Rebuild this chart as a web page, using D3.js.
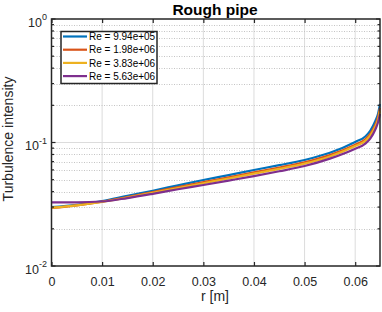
<!DOCTYPE html>
<html><head><meta charset="utf-8">
<script src="https://cdn.jsdelivr.net/npm/d3@7"></script>
<style>body{margin:0;background:#fff}svg{display:block;font-family:"Liberation Sans",Arial,sans-serif}</style>
</head><body><svg id="c" width="382" height="312"></svg>
<script>
const rVals = [0, 0.005, 0.01, 0.015, 0.02, 0.025, 0.03, 0.035, 0.04, 0.045, 0.05, 0.055, 0.06, 0.062, 0.063, 0.064, 0.0645, 0.0649];
const seriesNames = ["Re = 9.94e+05", "Re = 1.98e+06", "Re = 3.83e+06", "Re = 5.63e+06"];
const re994e05 = [0.0300, 0.0313, 0.0335, 0.0370, 0.0407, 0.0450, 0.0497, 0.0545, 0.0599, 0.0655, 0.0722, 0.0825, 0.1010, 0.112, 0.125, 0.150, 0.170, 0.205];
const re198e06 = [0.0295, 0.0310, 0.0332, 0.0362, 0.0396, 0.0436, 0.0478, 0.0523, 0.0573, 0.0627, 0.0692, 0.0790, 0.0960, 0.106, 0.118, 0.140, 0.160, 0.190];
const re383e06 = [0.0297, 0.0310, 0.0330, 0.0358, 0.0391, 0.0428, 0.0468, 0.0511, 0.0560, 0.0611, 0.0674, 0.0770, 0.0935, 0.103, 0.114, 0.135, 0.153, 0.180];
const re563e06 = [0.0328, 0.0328, 0.0333, 0.0355, 0.0384, 0.0418, 0.0453, 0.0492, 0.0535, 0.0585, 0.0645, 0.0740, 0.0890, 0.098, 0.108, 0.128, 0.145, 0.170];
const colors = ["#0072BD", "#D95319", "#EDB120", "#7E2F8E"];
const xTicks = [0, 0.01, 0.02, 0.03, 0.04, 0.05, 0.06];
const xTickLabels = ["0", "0.01", "0.02", "0.03", "0.04", "0.05", "0.06"];
const yTicks = [1e-2, 1e-1, 1];
const yTickExps = ["-2", "-1", "0"];

const allSeries = [re994e05, re198e06, re383e06, re563e06];
const svg = d3.select("#c");
const L = 51.5, R = 380, T = 19, B = 266;
const x = d3.scaleLinear().domain([0, 0.0649]).range([L, R]);
const y = d3.scaleLog().domain([1e-2, 1]).range([B, T]);

const minor = [];
for (let e = -2; e < 0; e++) for (let m = 2; m <= 9; m++) minor.push(m * Math.pow(10, e));

const g = svg.append("g");
g.selectAll(".vg").data(xTicks.slice(1)).enter().append("line")
  .attr("x1", d => x(d)).attr("x2", d => x(d)).attr("y1", T).attr("y2", B)
  .attr("stroke", "#dcdcdc").attr("stroke-width", 1);
g.selectAll(".hg").data([1e-1]).enter().append("line")
  .attr("x1", L).attr("x2", R).attr("y1", d => y(d)).attr("y2", d => y(d))
  .attr("stroke", "#dcdcdc").attr("stroke-width", 1);
g.selectAll(".mg").data(minor).enter().append("line")
  .attr("x1", L).attr("x2", R).attr("y1", d => Math.round(y(d)) + 0.5).attr("y2", d => Math.round(y(d)) + 0.5)
  .attr("stroke", "#c4c4c4").attr("stroke-width", 1).attr("stroke-dasharray", "1,1.5");

const line = d3.line().x((d, i) => x(rVals[i])).y(d => y(d)).curve(d3.curveMonotoneX);
allSeries.forEach((s, i) => {
  svg.append("path").datum(s).attr("d", line).attr("fill", "none")
    .attr("stroke", colors[i]).attr("stroke-width", 2.2).attr("stroke-linejoin", "round");
});

const ax = svg.append("g");
const axColor = "#262626";
ax.append("rect").attr("x", L).attr("y", T).attr("width", R - L).attr("height", B - T)
  .attr("fill", "none").attr("stroke", axColor).attr("stroke-width", 1.5);
const xAxis = d3.axisBottom(x).tickValues(xTicks).tickFormat((d, i) => xTickLabels[i]).tickSizeInner(-4).tickSizeOuter(0).tickPadding(11);
const xa = ax.append("g").attr("transform", `translate(0,${B})`).call(xAxis);
xa.select(".domain").remove();
xa.selectAll("line").attr("stroke", axColor).attr("stroke-width", 1.2);
xa.selectAll("text").attr("fill", axColor).attr("font-size", 12.5).attr("font-family", "Liberation Sans, Arial, sans-serif");
const xTop = d3.axisTop(x).tickValues(xTicks).tickFormat("").tickSizeInner(-4).tickSizeOuter(0);
const xt = ax.append("g").attr("transform", `translate(0,${T})`).call(xTop);
xt.select(".domain").remove();
xt.selectAll("line").attr("stroke", axColor).attr("stroke-width", 1.2);

[["left", L, 1], ["right", R, -1]].forEach(([side, px, dir]) => {
  ax.selectAll(".mt" + side).data(minor.concat(yTicks)).enter().append("line")
    .attr("x1", px).attr("x2", d => px + dir * (yTicks.includes(d) ? 4 : 2.5))
    .attr("y1", d => y(d)).attr("y2", d => y(d)).attr("stroke", axColor).attr("stroke-width", 1.2);
});
const yl = ax.selectAll(".yl").data(yTicks).enter().append("text")
  .attr("x", L - 4.5).attr("y", d => y(d) + 7.5).attr("text-anchor", "end")
  .attr("font-size", 12.5).attr("fill", axColor).text("10");
yl.append("tspan").attr("dy", -6.5).attr("font-size", 9).text((d, i) => yTickExps[i]);

svg.append("text").attr("x", 215).attr("y", 15).attr("text-anchor", "middle")
  .attr("font-size", 15.5).attr("font-weight", "bold").attr("fill", "#000").text("Rough pipe");
svg.append("text").attr("x", 215).attr("y", 301).attr("text-anchor", "middle")
  .attr("font-size", 14).attr("fill", axColor).text("r [m]");
svg.append("text").attr("transform", `translate(13,139) rotate(-90)`).attr("text-anchor", "middle")
  .attr("font-size", 14).attr("fill", axColor).text("Turbulence intensity");

const lg = svg.append("g");
lg.append("rect").attr("x", 61).attr("y", 31.5).attr("width", 96).attr("height", 52)
  .attr("fill", "#fff").attr("stroke", axColor).attr("stroke-width", 1.5);
seriesNames.forEach((n, i) => {
  const yy = 36.5 + i * 13.2;
  lg.append("line").attr("x1", 63).attr("x2", 87).attr("y1", yy).attr("y2", yy)
    .attr("stroke", colors[i]).attr("stroke-width", 2.2);
  lg.append("text").attr("x", 89).attr("y", yy + 3.6).attr("font-size", 10).attr("fill", "#000").text(n);
});
</script></body></html>
